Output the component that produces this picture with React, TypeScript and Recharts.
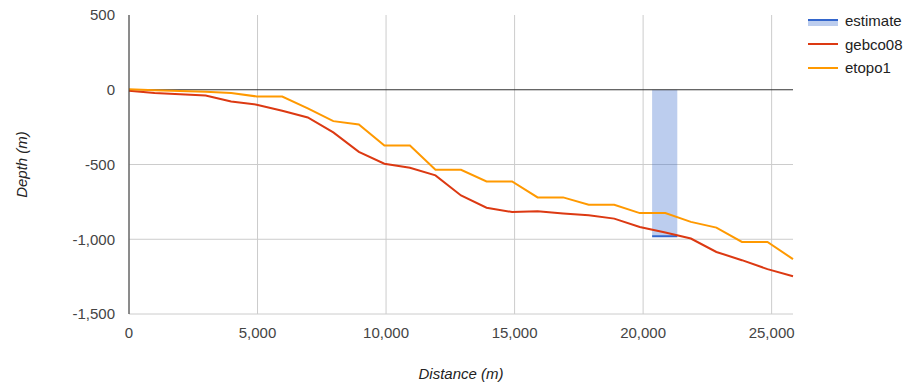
import {
  Area,
  CartesianGrid,
  ComposedChart,
  Line,
  ReferenceLine,
  XAxis,
  YAxis,
} from 'recharts'

// distance along the profile (m)
const distance = [
  0, 994, 1987, 2981, 3974, 4968, 5961, 6955, 7948, 8942, 9935, 10929, 11922, 12916,
  13909, 14903, 15896, 16890, 17883, 18877, 19870, 20864, 21857, 22851, 23844, 24838, 25831,
]

const gebco08 = [
  -7, -22, -30, -38, -78, -100, -140, -185, -285, -415, -495, -522, -573, -707,
  -789, -818, -813, -827, -840, -862, -918, -955, -995, -1085, -1140, -1200, -1247,
]

const etopo1 = [
  3, -3, -8, -14, -22, -45, -45, -125, -210, -232, -373, -373, -535, -535,
  -613, -613, -720, -720, -769, -769, -825, -825, -884, -922, -1018, -1018, -1133,
]

// estimate: shaded from 0 down to the depth, over a distance range
const estimateRange = [20350, 21330]
const estimateDepth = -980

const xTicks = [0, 5000, 10000, 15000, 20000, 25000]
const yTicks = [-1500, -1000, -500, 0, 500]

const FONT = 'Arial, "Liberation Sans", sans-serif'
const BLUE = '#3366cc'
const RED = '#dc3912'
const ORANGE = '#ff9900'

const profile = distance.map((d, i) => ({ d, gebco08: gebco08[i], etopo1: etopo1[i] }))
const estimate = estimateRange.map((d) => ({ d, estimate: estimateDepth }))

const fmt = (v: number) => v.toLocaleString('en-US')

function DepthTitle({ viewBox }: any) {
  const x = viewBox.x + 21
  const y = viewBox.y + viewBox.height / 2
  return (
    <text
      x={x}
      y={y}
      transform={`rotate(-90 ${x} ${y})`}
      textAnchor="middle"
      dominantBaseline="central"
      fontStyle="italic"
      fontSize={15}
      fill="#222"
      fontFamily={FONT}
    >
      Depth (m)
    </text>
  )
}

function DistanceTitle({ viewBox }: any) {
  return (
    <text
      x={viewBox.x + viewBox.width / 2}
      y={373}
      textAnchor="middle"
      dominantBaseline="central"
      fontStyle="italic"
      fontSize={15}
      fill="#222"
      fontFamily={FONT}
    >
      Distance (m)
    </text>
  )
}

const legendItems = [
  { name: 'estimate', color: BLUE, area: true },
  { name: 'gebco08', color: RED, area: false },
  { name: 'etopo1', color: ORANGE, area: false },
]

export default function App() {
  return (
    <div style={{ position: 'absolute', left: 0, top: 0, width: 908, height: 383, fontFamily: FONT }}>
      <ComposedChart
        width={908}
        height={383}
        data={profile}
        margin={{ top: 15, right: 115, bottom: 0, left: 0 }}
      >
        <CartesianGrid
          stroke="#cccccc"
          horizontalValues={[-1500, -1000, -500]}
          verticalValues={xTicks}
        />
        <XAxis
          dataKey="d"
          type="number"
          domain={[0, distance[distance.length - 1]]}
          ticks={xTicks}
          tickFormatter={fmt}
          height={69}
          axisLine={false}
          tickLine={false}
          tickSize={0}
          tickMargin={13}
          tick={{ fontSize: 15, fill: '#444', fontFamily: FONT }}
          label={<DistanceTitle />}
        />
        <YAxis
          type="number"
          domain={[-1500, 500]}
          ticks={yTicks}
          tickFormatter={fmt}
          width={129}
          axisLine={{ stroke: '#333' }}
          tickLine={false}
          tickSize={0}
          tickMargin={14}
          tick={{ fontSize: 15, fill: '#444', fontFamily: FONT }}
          label={<DepthTitle />}
        />
        <ReferenceLine y={0} stroke="#333" strokeWidth={1} />
        <Area
          data={estimate}
          dataKey="estimate"
          type="linear"
          baseValue={0}
          stroke={BLUE}
          strokeWidth={2}
          fill={BLUE}
          fillOpacity={0.33}
          isAnimationActive={false}
        />
        <Line
          dataKey="gebco08"
          type="linear"
          stroke={RED}
          strokeWidth={2}
          dot={false}
          isAnimationActive={false}
        />
        <Line
          dataKey="etopo1"
          type="linear"
          stroke={ORANGE}
          strokeWidth={2}
          dot={false}
          isAnimationActive={false}
        />
      </ComposedChart>
      <div style={{ position: 'absolute', left: 808, top: 9 }}>
        {legendItems.map((it) => (
          <div key={it.name} style={{ display: 'flex', alignItems: 'center', height: 23.5 }}>
            <svg width={30} height={12} style={{ marginRight: 7 }}>
              {it.area && <rect x={0} y={5} width={30} height={6} fill={it.color} fillOpacity={0.33} />}
              <line x1={0} x2={30} y1={it.area ? 5 : 6} y2={it.area ? 5 : 6} stroke={it.color} strokeWidth={2} />
            </svg>
            <span style={{ fontSize: 15, color: '#222' }}>{it.name}</span>
          </div>
        ))}
      </div>
    </div>
  )
}
